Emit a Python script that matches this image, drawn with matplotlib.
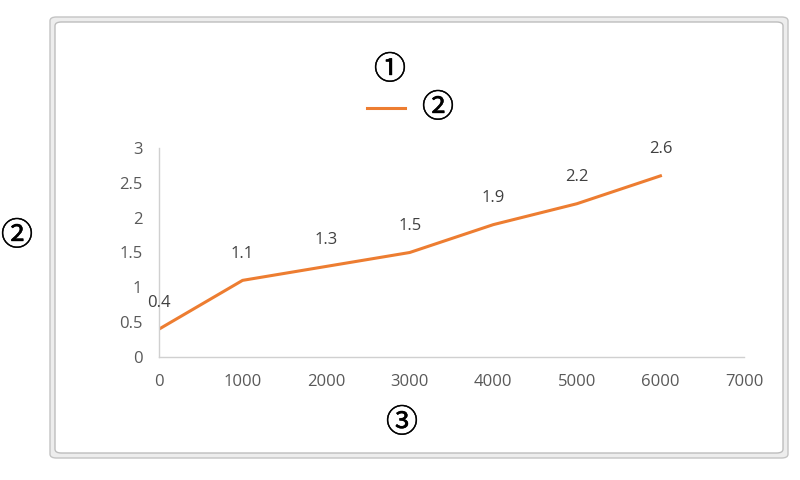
import numpy as np
import matplotlib.pyplot as plt
import matplotlib.patheffects as pe
from matplotlib.patches import FancyBboxPatch

X_VALS = [0, 1000, 2000, 3000, 4000, 5000, 6000]
Y_VALS = [0.4, 1.1, 1.3, 1.5, 1.9, 2.2, 2.6]
X_TICKS = [0, 1000, 2000, 3000, 4000, 5000, 6000, 7000]
Y_TICKS = [0, 0.5, 1, 1.5, 2, 2.5, 3]
Y_TICK_LABELS = ["0", "0.5", "1", "1.5", "2", "2.5", "3"]

LINE_COLOR = "#ED7D31"
TEXT_COLOR = "#595959"
CIRC_FONT = ["Noto Sans CJK SC", "DejaVu Sans"]

plt.rcParams["font.family"] = ["Open Sans", "DejaVu Sans"]

fig = plt.figure(figsize=(8, 4.8), dpi=100)
W, H = 800.0, 480.0

# chart frame (outer band + inner white box)
outer = FancyBboxPatch((50 / W, 1 - 458 / H), 738 / W, 441 / H,
                       boxstyle="round,pad=0,rounding_size=0.008",
                       transform=fig.transFigure, facecolor="#ededed",
                       edgecolor="#c4c4c4", linewidth=1.0, zorder=-2)
inner = FancyBboxPatch((55 / W, 1 - 453 / H), 728 / W, 431 / H,
                       boxstyle="round,pad=0,rounding_size=0.008",
                       transform=fig.transFigure, facecolor="white",
                       edgecolor="#bdbdbd", linewidth=1.0, zorder=-1)
fig.patches.extend([outer, inner])

ax = fig.add_axes([159 / W, 1 - 357 / H, (744 - 159) / W, (357 - 148) / H])
ax.set_zorder(1)
ax.set_facecolor("none")
ax.plot(X_VALS, Y_VALS, color=LINE_COLOR, linewidth=2.2, solid_joinstyle="round")
ax.set_xlim(0, 7000)
ax.set_ylim(0, 3)
ax.set_xticks(X_TICKS)
ax.set_yticks(Y_TICKS)
ax.set_yticklabels(Y_TICK_LABELS)
for s in ["top", "right"]:
    ax.spines[s].set_visible(False)
for s in ["left", "bottom"]:
    ax.spines[s].set_color("#d0d0d0")
    ax.spines[s].set_linewidth(1.0)
ax.tick_params(axis="both", length=0, labelsize=12, colors=TEXT_COLOR)
ax.tick_params(axis="x", pad=12)
ax.tick_params(axis="y", pad=12)

for x, y in zip(X_VALS, Y_VALS):
    ax.annotate(f"{y:g}", (x, y), xytext=(0, 19), textcoords="offset points",
                ha="center", va="center", fontsize=12, color="#404040")

# title, legend and axis placeholders
circ = dict(family=CIRC_FONT, fontsize=23,
            ha="center", va="center", color="black", zorder=3,
            path_effects=[pe.withStroke(linewidth=0.35, foreground="black")])
fig.text(390 / W, 1 - 70 / H, "\u2460", **circ)
fig.lines.append(plt.Line2D([367 / W, 405 / W], [1 - 108 / H, 1 - 108 / H],
                            transform=fig.transFigure, color=LINE_COLOR,
                            linewidth=2.2))
fig.text(438 / W, 1 - 108 / H, "\u2461", **circ)
fig.text(17 / W, 1 - 236 / H, "\u2461", **circ)
fig.text(402 / W, 1 - 423 / H, "\u2462", **circ)

fig.savefig("out.png", dpi=100)
